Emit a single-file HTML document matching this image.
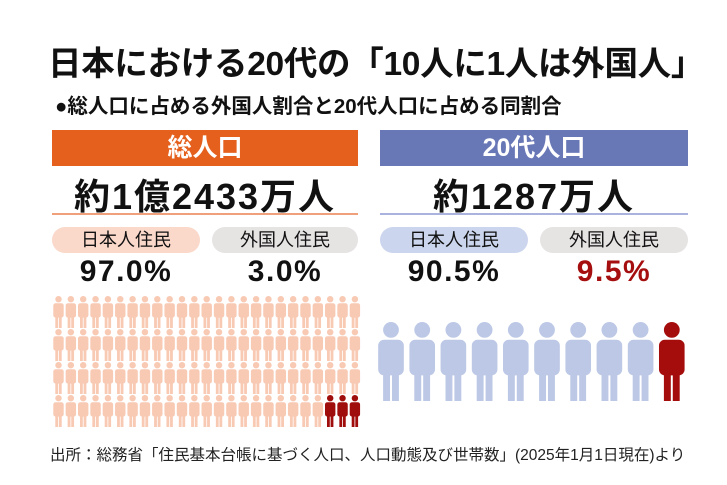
<!DOCTYPE html><html><head><meta charset="utf-8"><style>
body{margin:0;width:727px;height:485px;background:#fff;font-family:"Liberation Sans","Noto Sans CJK JP",sans-serif;position:relative;overflow:hidden;color:#111}
.a{position:absolute;white-space:nowrap}
.b{font-weight:bold}
.pill{position:absolute;height:26px;border-radius:13px;font-size:18px;text-align:center;line-height:26px}
</style></head><body>
<svg width="0" height="0" style="position:absolute"><defs>
<symbol id="p" viewBox="0 0 26 80"><circle cx="13" cy="8" r="8"/><rect x="0" y="18" width="26" height="36" rx="6"/><rect x="5" y="48" width="7" height="32"/><rect x="14" y="48" width="7" height="32"/></symbol>
</defs></svg>
<div class="a b" style="left:48px;top:36px;font-size:33.5px;letter-spacing:-0.3px">日本における20代の「10人に1人は外国人」</div>
<div class="a b" style="left:55px;top:89px;font-size:20.5px">●総人口に占める外国人割合と20代人口に占める同割合</div>
<div class="a" style="left:52px;top:130px;width:306px;height:36px;background:#e55f1d;color:#fff;font-size:25px;font-weight:bold;text-align:center;line-height:36px">総人口</div>
<div class="a" style="left:380px;top:130px;width:308px;height:36px;background:#6877b6;color:#fff;font-size:25px;font-weight:bold;text-align:center;line-height:36px">20代人口</div>
<div class="a b" style="left:52px;width:306px;top:168px;font-size:36px;letter-spacing:2px;text-align:center">約1億2433万人</div>
<div class="a b" style="left:380px;width:308px;top:168px;font-size:36px;letter-spacing:2px;text-align:center">約1287万人</div>
<div class="a" style="left:52px;top:213px;width:306px;height:2px;background:#f0a07a"></div>
<div class="a" style="left:380px;top:213px;width:308px;height:2px;background:#a9b3dd"></div>
<div class="pill" style="left:52px;top:227px;width:148px;background:#fad8ca">日本人住民</div>
<div class="pill" style="left:212px;top:227px;width:146px;background:#e6e3e3">外国人住民</div>
<div class="pill" style="left:380px;top:227px;width:148px;background:#cbd5ee">日本人住民</div>
<div class="pill" style="left:540px;top:227px;width:148px;background:#e6e3e3">外国人住民</div>
<div class="a b" style="left:52px;width:148px;top:255px;font-size:30px;letter-spacing:1.5px;text-align:center">97.0%</div>
<div class="a b" style="left:212px;width:146px;top:255px;font-size:30px;letter-spacing:1.5px;text-align:center">3.0%</div>
<div class="a b" style="left:380px;width:148px;top:255px;font-size:30px;letter-spacing:1.5px;text-align:center">90.5%</div>
<div class="a b" style="left:540px;width:148px;top:255px;font-size:30px;letter-spacing:1.5px;text-align:center;color:#a50f0f">9.5%</div>
<svg class="a" style="left:0;top:0" width="727" height="485">
<g id="grid"></g>
</svg>
<script>
var g=document.getElementById('grid'),s='';
for(var r=0;r<4;r++)for(var c=0;c<25;c++){var red=(r==3&&c>=22);
s+='<use href="#p" x="'+(53+c*12.35)+'" y="'+(296+r*33)+'" width="11" height="32" fill="'+(red?'#a00d0d':'#f8c9b3')+'"/>';}
for(var i=0;i<10;i++){s+='<use href="#p" x="'+(378+i*31.2)+'" y="'+322+'" width="26" height="79" fill="'+(i==9?'#a50d0d':'#bcc8e6')+'"/>';}
g.innerHTML=s;
</script>
<div class="a" style="left:50px;top:443px;font-size:15.5px;color:#222">出所：総務省「住民基本台帳に基づく人口、人口動態及び世帯数」(2025年1月1日現在)より</div>
</body></html>
